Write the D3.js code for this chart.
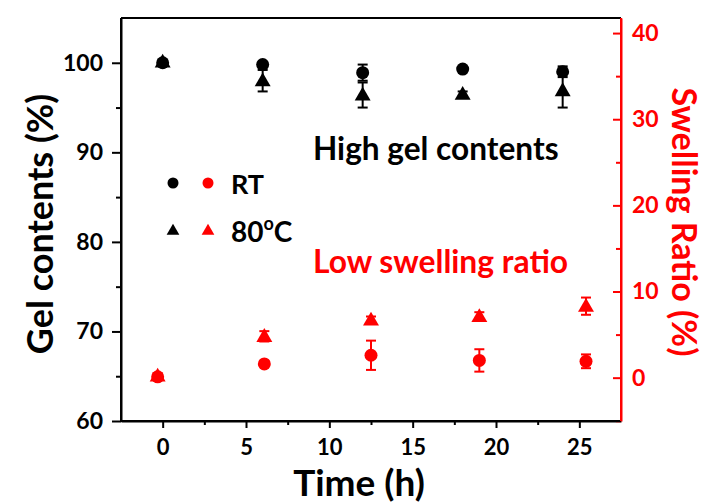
<!DOCTYPE html>
<html><head><meta charset="utf-8">
<script src="https://cdn.jsdelivr.net/npm/d3@7"></script>
<style>body{margin:0;background:#fff}svg{display:block}</style>
</head><body>
<svg id="c" width="710" height="504"></svg>
<script>
const timeBlack = [0, 6, 12, 18, 24];
const gelRT = [100.0, 99.8, 98.9, 99.3, 99.0];
const gelRTErr = [0.2, 0.2, 0.9, 0.2, 0.6];
const gel80 = [100.1, 98.0, 96.4, 96.5, 96.9];
const gel80Err = [0.2, 1.2, 1.4, 0.3, 1.9];
const timeRed = [-0.3, 6.1, 12.5, 19.0, 25.4];
const swellRT = [0.1, 1.6, 2.6, 2.0, 1.9];
const swellRTErr = [0.2, 0.3, 1.7, 1.3, 0.8];
const swell80 = [0.2, 4.8, 6.7, 7.1, 8.3];
const swell80Err = [0.3, 0.6, 0.4, 0.5, 1.0];
const xTicks = [0, 5, 10, 15, 20, 25];
const yLeftTicks = [60, 70, 80, 90, 100];
const yRightTicks = [0, 10, 20, 30, 40];

const FONT = "Lato, 'Open Sans', sans-serif";
const RED = "#ff0000";
const svg = d3.select("#c");
const L = 121, R = 621, T = 18, B = 421;
const x = d3.scaleLinear().domain([-2.5, 27.5]).range([L, R]);
const yL = d3.scaleLinear().domain([60, 105]).range([B, T]);
const yR = d3.scaleLinear().domain([-5.03, 41.75]).range([B, T]);

svg.append("line").attr("x1", L).attr("x2", R).attr("y1", T).attr("y2", T)
  .attr("stroke", "#000").attr("stroke-width", 2);

function styleAxis(g, color, size) {
  g.select(".domain").attr("stroke", color).attr("stroke-width", 2);
  g.selectAll(".tick line").attr("stroke", color).attr("stroke-width", 2);
  g.selectAll(".tick text").attr("fill", color).attr("font-family", FONT)
    .attr("font-weight", "bold").attr("font-size", size);
}

// left axis
const gl = svg.append("g").attr("transform", `translate(${L},0)`)
  .call(d3.axisLeft(yL).tickValues(yLeftTicks).tickSizeInner(9).tickSizeOuter(0).tickPadding(9));
styleAxis(gl, "#000", 23);
svg.append("g").attr("transform", `translate(${L},0)`)
  .call(d3.axisLeft(yL).tickValues([65, 75, 85, 95]).tickSize(5).tickFormat(""))
  .call(g => { g.select(".domain").remove(); g.selectAll("line").attr("stroke", "#000").attr("stroke-width", 2); });

// bottom axis
const gb = svg.append("g").attr("transform", `translate(0,${B})`)
  .call(d3.axisBottom(x).tickValues(xTicks).tickSizeInner(7).tickSizeOuter(0).tickPadding(11));
styleAxis(gb, "#000", 22);
svg.append("g").attr("transform", `translate(0,${B})`)
  .call(d3.axisBottom(x).tickValues([2.5, 7.5, 12.5, 17.5, 22.5]).tickSize(4).tickFormat(""))
  .call(g => { g.select(".domain").remove(); g.selectAll("line").attr("stroke", "#000").attr("stroke-width", 2); });

// right axis (ticks inward)
const gr = svg.append("g").attr("transform", `translate(${R},0)`)
  .call(d3.axisRight(yR).tickValues(yRightTicks).tickSizeInner(-8).tickSizeOuter(0).tickPadding(11));
styleAxis(gr, RED, 23);
svg.append("g").attr("transform", `translate(${R},0)`)
  .call(d3.axisRight(yR).tickValues([-5, 5, 15, 25, 35]).tickSize(-5).tickFormat(""))
  .call(g => { g.select(".domain").remove(); g.selectAll("line").attr("stroke", RED).attr("stroke-width", 2); });

svg.append("line").attr("x1", L).attr("x2", L).attr("y1", T).attr("y2", B).attr("stroke", "#000").attr("stroke-width", 2);
svg.append("line").attr("x1", L).attr("x2", R).attr("y1", B).attr("y2", B).attr("stroke", "#000").attr("stroke-width", 2);
svg.append("line").attr("x1", R).attr("x2", R).attr("y1", T).attr("y2", B).attr("stroke", RED).attr("stroke-width", 2);

const tri = d3.symbol().type(d3.symbolTriangle);
function series(xs, ys, errs, yScale, color, shape) {
  const g = svg.append("g");
  xs.forEach((xv, i) => {
    const cx = x(xv), cy = yScale(ys[i]);
    const y1 = yScale(ys[i] + errs[i]), y2 = yScale(ys[i] - errs[i]);
    g.append("line").attr("x1", cx).attr("x2", cx).attr("y1", y1).attr("y2", y2)
      .attr("stroke", color).attr("stroke-width", 2);
    [y1, y2].forEach(yy => g.append("line").attr("x1", cx - 5).attr("x2", cx + 5)
      .attr("y1", yy).attr("y2", yy).attr("stroke", color).attr("stroke-width", 2));
    if (shape === "circle") {
      g.append("circle").attr("cx", cx).attr("cy", cy).attr("r", 6.5).attr("fill", color);
    } else {
      g.append("path").attr("d", tri.size(110)()).attr("transform", `translate(${cx},${cy + 1})`).attr("fill", color);
    }
  });
}
series(timeBlack, gel80, gel80Err, yL, "#000", "tri");
series(timeBlack, gelRT, gelRTErr, yL, "#000", "circle");
series(timeRed, swell80, swell80Err, yR, RED, "tri");
series(timeRed, swellRT, swellRTErr, yR, RED, "circle");

// legend
const leg = svg.append("g");
leg.append("circle").attr("cx", 173).attr("cy", 183).attr("r", 5.5).attr("fill", "#000");
leg.append("circle").attr("cx", 208).attr("cy", 183).attr("r", 5.5).attr("fill", RED);
leg.append("path").attr("d", tri.size(70)()).attr("transform", "translate(173,231)").attr("fill", "#000");
leg.append("path").attr("d", tri.size(70)()).attr("transform", "translate(208,231)").attr("fill", RED);
leg.append("text").attr("x", 231).attr("y", 194).text("RT")
  .attr("font-family", FONT).attr("font-weight", "bold").attr("font-size", 27);
const t80 = leg.append("text").attr("x", 231).attr("y", 242)
  .attr("font-family", FONT).attr("font-weight", "bold").attr("font-size", 28);
t80.append("tspan").text("80");
t80.append("tspan").text("o").attr("font-size", 18).attr("dy", -12);
t80.append("tspan").text("C").attr("dy", 12);

svg.append("text").attr("x", 313).attr("y", 160).text("High gel contents")
  .attr("font-family", FONT).attr("font-weight", "bold").attr("font-size", 31.6).attr("fill", "#000");
svg.append("text").attr("x", 313).attr("y", 273).text("Low swelling ratio")
  .attr("font-family", FONT).attr("font-weight", "bold").attr("font-size", 31.8).attr("fill", RED);

// axis titles
svg.append("text").attr("text-anchor", "middle").attr("x", 359).attr("y", 496).text("Time (h)")
  .attr("font-family", FONT).attr("font-weight", "bold").attr("font-size", 37);
svg.append("text").attr("text-anchor", "middle").attr("transform", "translate(53,224) rotate(-90)").text("Gel contents (%)")
  .attr("font-family", FONT).attr("font-weight", "bold").attr("font-size", 36);
svg.append("text").attr("text-anchor", "middle").attr("transform", "translate(672,222) rotate(90)").text("Swelling Ratio (%)")
  .attr("font-family", FONT).attr("font-weight", "bold").attr("font-size", 34).attr("fill", RED);
</script>
</body></html>
